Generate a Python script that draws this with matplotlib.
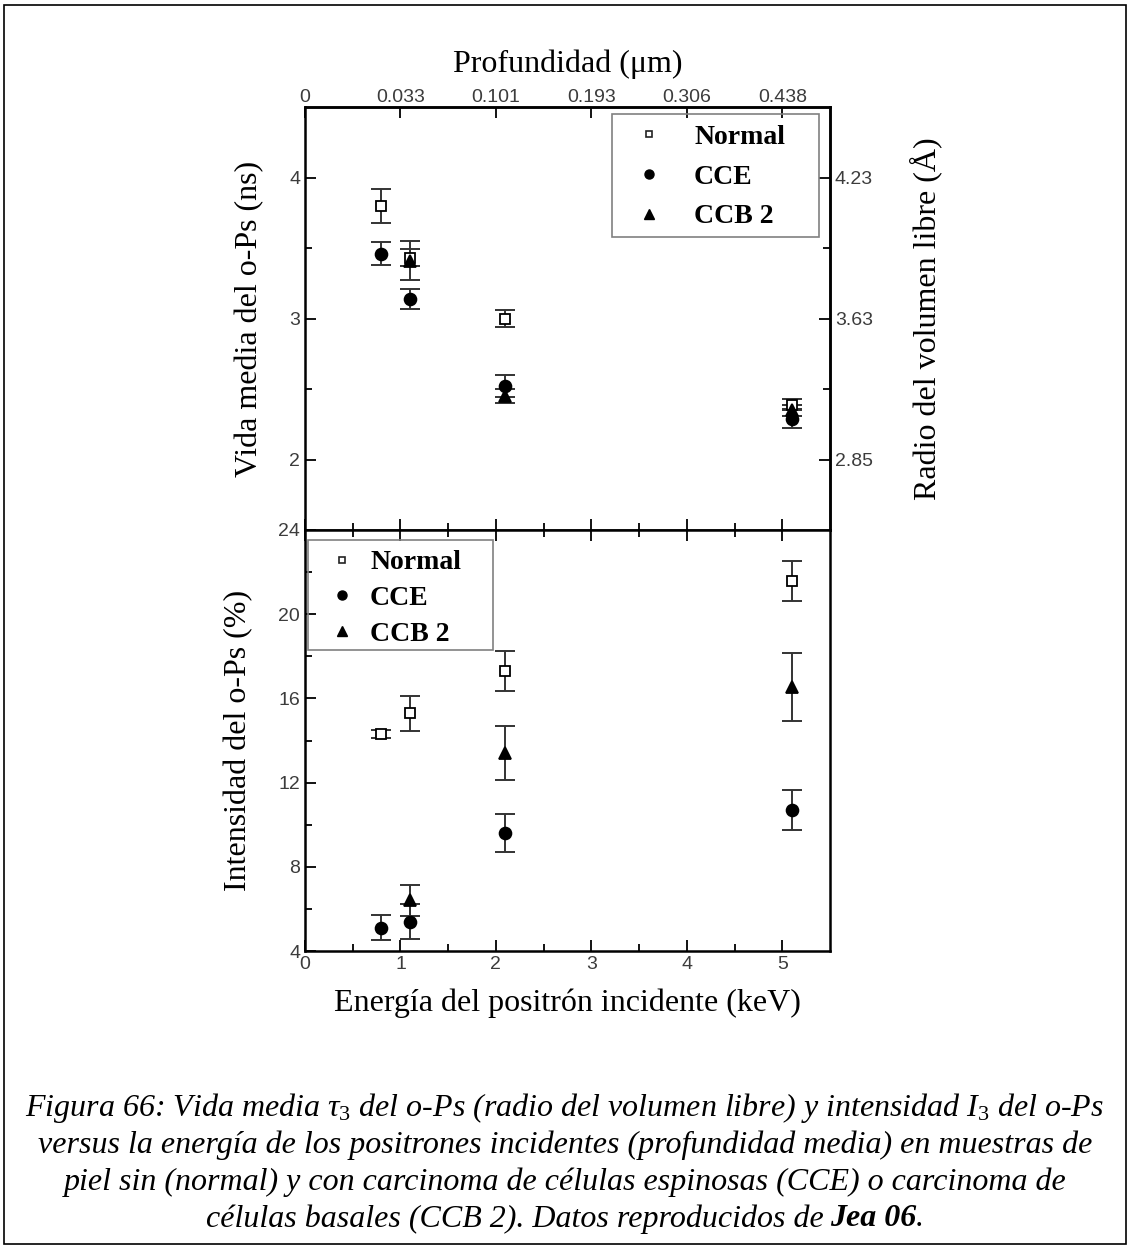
import numpy as np
import matplotlib
matplotlib.use("Agg")
from matplotlib import pyplot as plt
from matplotlib.lines import Line2D
from matplotlib.patches import Rectangle

# energies of the incident positrons (keV)
energy_norm = [0.8, 1.1, 2.1, 5.1]
energy_cce = [0.8, 1.1, 2.1, 5.1]
energy_ccb = [1.1, 2.1, 5.1]

# o-Ps lifetime tau3 (ns)
tau_norm = [3.80, 3.43, 3.00, 2.39]
tau_norm_err = [0.12, 0.06, 0.06, 0.04]
tau_cce = [3.46, 3.14, 2.52, 2.29]
tau_cce_err = [0.08, 0.07, 0.08, 0.07]
tau_ccb = [3.41, 2.45, 2.35]
tau_ccb_err = [0.14, 0.05, 0.04]

# o-Ps intensity I3 (%)
int_norm = [14.3, 15.3, 17.3, 21.6]
int_norm_err = [0.2, 0.83, 0.95, 0.95]
int_cce = [5.1, 5.4, 9.6, 10.7]
int_cce_err = [0.6, 0.85, 0.92, 0.97]
int_ccb = [6.4, 13.4, 16.55]
int_ccb_err = [0.75, 1.3, 1.63]

depth_labels = ["0", "0.033", "0.101", "0.193", "0.306", "0.438"]
radius_labels = ["2.85", "3.63", "4.23"]
names = ["Normal", "CCE", "CCB 2"]

SERIF = "Liberation Serif"
SANS = "Liberation Sans"
plt.rcParams["mathtext.fontset"] = "custom"
plt.rcParams["mathtext.rm"] = SERIF
plt.rcParams["mathtext.it"] = SERIF + ":italic"
plt.rcParams["mathtext.bf"] = SERIF + ":bold"

W, H = 1130, 1249
fig = plt.figure(figsize=(W / 100, H / 100), dpi=100)

left, right = 305 / W, 830 / W
y_top, y_mid, y_bot = 1 - 107 / H, 1 - 530 / H, 1 - 951 / H
ax1 = fig.add_axes([left, y_mid, right - left, y_top - y_mid])
ax2 = fig.add_axes([left, y_bot, right - left, y_mid - y_bot])

tick_color = "#3c3c3c"
ebar = "#333333"
TICK_SIZE = 14
LABEL_SIZE = 23


def style_axis(ax):
    for sp in ax.spines.values():
        sp.set_linewidth(1.8)
    ax.tick_params(which="both", direction="in", width=1.3, color="black",
                   labelcolor=tick_color, labelsize=TICK_SIZE)
    ax.tick_params(which="major", length=8)
    ax.tick_params(which="minor", length=5)
    for lab in ax.get_xticklabels() + ax.get_yticklabels():
        lab.set_fontfamily(SANS)


def draw(ax, x, y, err, marker, face, ms):
    ax.errorbar(x, y, yerr=err, fmt="none", ecolor=ebar, elinewidth=1.4,
                capsize=7, capthick=1.4, zorder=2)
    ax.plot(x, y, linestyle="none", marker=marker, markersize=ms,
            markerfacecolor=face, markeredgecolor="black", markeredgewidth=1.3,
            zorder=3)


def add_legend(ax, x, y, textpad, spacing, box):
    handles = [
        Line2D([], [], linestyle="none", marker="s", markersize=5,
               markerfacecolor="white", markeredgecolor="#222222", markeredgewidth=1.2),
        Line2D([], [], linestyle="none", marker="o", markersize=6.5,
               markerfacecolor="black", markeredgecolor="black"),
        Line2D([], [], linestyle="none", marker="^", markersize=6.5,
               markerfacecolor="black", markeredgecolor="black"),
    ]
    leg = ax.legend(handles, names, loc="upper left", bbox_to_anchor=(x, y),
                    prop={"family": SERIF, "weight": "bold", "size": 20},
                    frameon=False, handlelength=1.0, handletextpad=textpad,
                    labelspacing=spacing, borderpad=0, borderaxespad=0)
    x0, y0, x1, y1 = box
    ax.add_patch(Rectangle((x0, y0), x1 - x0, y1 - y0, transform=ax.transAxes,
                           fill=False, edgecolor="#808080", linewidth=1.2,
                           zorder=4))
    return leg


# upper panel: lifetime
draw(ax1, energy_norm, tau_norm, tau_norm_err, "s", "white", 7)
draw(ax1, energy_ccb, tau_ccb, tau_ccb_err, "^", "black", 8)
draw(ax1, energy_cce, tau_cce, tau_cce_err, "o", "black", 8.5)
ax1.set_xlim(0, 5.5)
ax1.set_ylim(1.5, 4.5)
ax1.set_yticks([2, 3, 4])
ax1.set_yticks([2.5, 3.5], minor=True)
ax1.set_xticks(range(0, 6))
ax1.set_xticks(np.arange(0.5, 5.5, 1.0), minor=True)
ax1.tick_params(axis="x", labelbottom=False)
ax1.set_ylabel("Vida media del o-Ps (ns)", family=SERIF, fontsize=LABEL_SIZE,
               labelpad=18)
style_axis(ax1)

top = ax1.secondary_xaxis("top")
top.set_xticks(range(0, 6), depth_labels)
top.tick_params(direction="in", length=8, width=1.3, labelcolor=tick_color,
                labelsize=TICK_SIZE, pad=1)
for lab in top.get_xticklabels():
    lab.set_fontfamily(SANS)
top.spines["top"].set_linewidth(1.8)
top.set_xlabel("Profundidad (μm)", family=SERIF, fontsize=LABEL_SIZE, labelpad=12)

rgt = ax1.secondary_yaxis("right")
rgt.set_yticks([2, 3, 4], radius_labels)
rgt.set_yticks([2.5, 3.5], minor=True)
rgt.tick_params(which="both", direction="in", width=1.3, labelcolor=tick_color,
                labelsize=TICK_SIZE)
rgt.tick_params(which="major", length=8)
rgt.tick_params(which="minor", length=5)
for lab in rgt.get_yticklabels():
    lab.set_fontfamily(SANS)
rgt.spines["right"].set_linewidth(1.8)
rgt.set_ylabel("Radio del volumen libre (Å)", family=SERIF, fontsize=LABEL_SIZE,
               labelpad=26)

add_legend(ax1, 0.629, 0.958, 1.12, 0.51, (0.585, 0.693, 0.979, 0.983))

# lower panel: intensity
draw(ax2, energy_norm, int_norm, int_norm_err, "s", "white", 7)
draw(ax2, energy_ccb, int_ccb, int_ccb_err, "^", "black", 8)
draw(ax2, energy_cce, int_cce, int_cce_err, "o", "black", 8.5)
ax2.set_xlim(0, 5.5)
ax2.set_ylim(4, 24)
ax2.set_yticks(range(4, 25, 4))
ax2.set_yticks(range(6, 24, 4), minor=True)
ax2.set_xticks(range(0, 6))
ax2.set_xticks(np.arange(0.5, 5.5, 1.0), minor=True)
ax2.tick_params(axis="x", which="both", top=True)
ax2.set_ylabel("Intensidad del o-Ps (%)", family=SERIF, fontsize=LABEL_SIZE,
               labelpad=18)
ax2.set_xlabel("Energía del positrón incidente (keV)", family=SERIF,
               fontsize=LABEL_SIZE, labelpad=11)
style_axis(ax2)
ax1.tick_params(axis="x", which="both", bottom=True)

add_legend(ax2, 0.044, 0.953, 0.51, 0.37, (0.006, 0.715, 0.358, 0.976))

# caption
CAP = 23
cap_font = {"family": SERIF, "style": "italic", "size": CAP}
lines = [
    r"Figura 66: Vida media $\tau_{\mathit{3}}$ del o-Ps (radio del volumen libre) y intensidad $I_{\mathit{3}}$ del o-Ps",
    "versus la energía de los positrones incidentes (profundidad media) en muestras de",
    "piel sin (normal) y con carcinoma de células espinosas (CCE) o carcinoma de",
]
ys = [1108, 1145, 1182]
for txt, yy in zip(lines, ys):
    fig.text(0.5, 1 - yy / H, txt, ha="center", va="center", **cap_font)

y4 = 1 - 1219 / H
p1 = fig.text(0, y4, "células basales (CCB 2). Datos reproducidos de", ha="left",
              va="center", **cap_font)
p2 = fig.text(0, y4, "Jea 06", ha="left", va="center", family=SERIF,
              style="italic", weight="bold", size=CAP)
p3 = fig.text(0, y4, ".", ha="left", va="center", **cap_font)
r = fig.canvas.get_renderer()
w1 = p1.get_window_extent(r).width
w2 = p2.get_window_extent(r).width
w3 = p3.get_window_extent(r).width
gap = 6
total = w1 + gap + w2 + w3
x0 = (W - total) / 2
p1.set_x(x0 / W)
p2.set_x((x0 + w1 + gap) / W)
p3.set_x((x0 + w1 + gap + w2) / W)

# outer frame
fig.patches.append(Rectangle((4 / W, 5 / H), 1 - 8 / W, 1 - 10 / H,
                             transform=fig.transFigure, fill=False,
                             edgecolor="black", linewidth=1.2))

fig.savefig("out.png", dpi=100)
